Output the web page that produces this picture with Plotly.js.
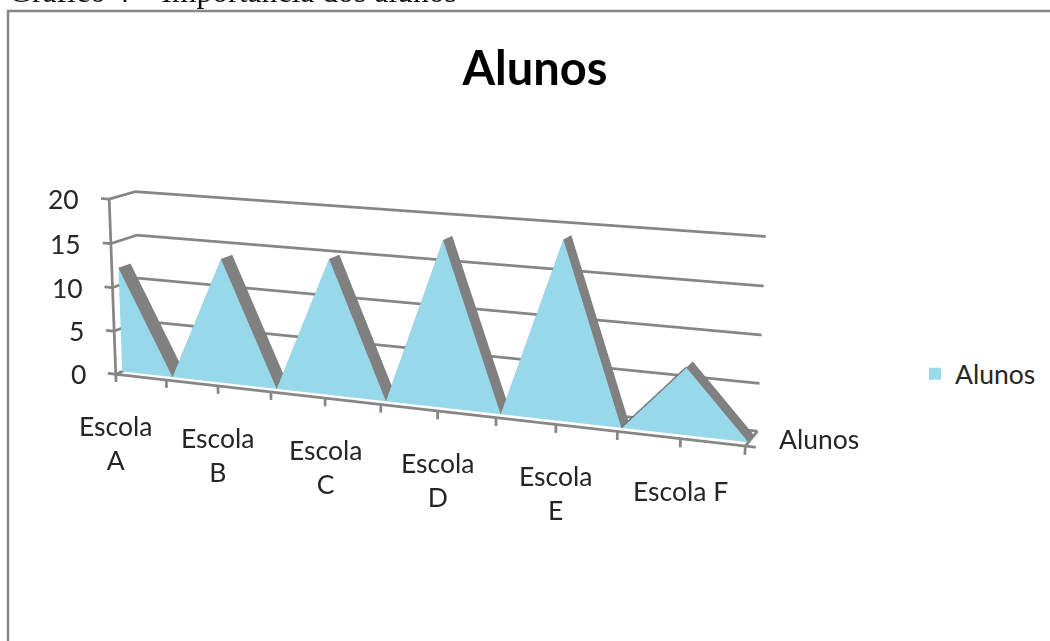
<!DOCTYPE html>
<html>
<head>
<meta charset="utf-8">
<script src="https://cdn.plot.ly/plotly-3.0.1.min.js"></script>
<style>
html,body{margin:0;padding:0;background:#fff;overflow:hidden;width:1050px;height:641px}
/* The figure is larger than the window so the 3D view keeps a long focal length. */
#chart{position:absolute;left:-841px;top:-459px}
</style>
</head>
<body>
<div id="chart"></div>
<script>
// Alunos por escola: blank rows between schools bring the area back to zero.
const categories = ['Escola<br>A', '', 'Escola<br>B', '', 'Escola<br>C', '', 'Escola<br>D', '', 'Escola<br>E', '', 'Escola F', ''];
const alunos = [12, 0, 14, 0, 15, 0, 18, 0, 19, 0, 7, 0];
const zTicks = [0, 5, 10, 15, 20];
const seriesName = 'Alunos';

const FIG_W = 2520, FIG_H = 1538, OFF_X = 841, OFF_Y = 459;
const px = x => (x + OFF_X) / FIG_W;
const py = y => 1 - (y + OFF_Y) / FIG_H;

const DEPTH_FRONT = 0.25, DEPTH_BACK = 0.72;
const AREA = '#97d8ea', TOP = '#808080', AXIS = '#868686', INK = '#262626';
const FONT = 'Lato, "Open Sans", sans-serif';
const LABEL = {family: FONT, size: 26.5, color: INK};
const X_MAX = alunos.length - 1, Z_MAX = 20;

// Front face and sloped top band of the 3D area, one segment at a time.
function meshBuilder() {
  const m = {x: [], y: [], z: [], i: [], j: [], k: []};
  m.v = (x, y, z) => { m.x.push(x); m.y.push(y); m.z.push(z); return m.x.length - 1; };
  m.quad = (a, b, c, d) => { m.i.push(a, a); m.j.push(b, c); m.k.push(c, d); };
  return m;
}
const front = meshBuilder(), top_ = meshBuilder();
alunos.forEach((v, n) => {
  if (n === X_MAX) return;
  const w = alunos[n + 1];
  front.quad(front.v(n, DEPTH_FRONT, 0), front.v(n + 1, DEPTH_FRONT, 0), front.v(n + 1, DEPTH_FRONT, w), front.v(n, DEPTH_FRONT, v));
  top_.quad(top_.v(n, DEPTH_FRONT, v), top_.v(n + 1, DEPTH_FRONT, w), top_.v(n + 1, DEPTH_BACK, w), top_.v(n, DEPTH_BACK, v));
});
const flat = {ambient: 1, diffuse: 0, specular: 0, roughness: 1, fresnel: 0};
const meshTrace = (m, color, extra) => Object.assign({
  type: 'mesh3d', x: m.x, y: m.y, z: m.z, i: m.i, j: m.j, k: m.k,
  color, flatshading: true, lighting: flat, hoverinfo: 'skip'
}, extra);

// Wall grid, axis lines and tick marks as polylines broken by nulls.
const seg = {x: [], y: [], z: []};
function path(points) {
  points.forEach(p => { seg.x.push(p[0]); seg.y.push(p[1]); seg.z.push(p[2]); });
  seg.x.push(null); seg.y.push(null); seg.z.push(null);
}
zTicks.forEach(z => {
  path([[0, 0, z], [0, 1, z], [X_MAX, 1, z]]);
  path([[0, 0, z], [-0.16, 0, z]]);
});
path([[0, 0, 0], [X_MAX, 0, 0]]);
path([[0, 0, 0], [0, 0, Z_MAX]]);
path([[X_MAX, 0, 0], [X_MAX, 1, 0]]);
path([[X_MAX, 0, 0], [X_MAX + 0.16, 0, 0]]);
alunos.forEach((_, n) => path([[n, 0, 0], [n, 0, -0.9]]));

const frame = {
  type: 'scatter3d', mode: 'lines', x: seg.x, y: seg.y, z: seg.z, connectgaps: false,
  line: {color: AXIS, width: 5.5}, showlegend: false, hoverinfo: 'skip'
};

// The rising side of the last peak catches a thin edge of the top band.
const lastPeak = X_MAX - 1;
const lastRise = {
  type: 'scatter3d', mode: 'lines',
  x: [lastPeak - 1, lastPeak], y: [DEPTH_FRONT, DEPTH_FRONT], z: [alunos[lastPeak - 1], alunos[lastPeak]],
  line: {color: '#6f6f6f', width: 3.5}, showlegend: false, hoverinfo: 'skip'
};

const xLabels = categories.map((text, x) => ({text, x})).filter(c => c.text).map(c => ({
  x: c.x, y: 0, z: 0, text: c.text, showarrow: false, yanchor: 'top', yshift: -34, font: LABEL
}));
const zLabels = zTicks.map(z => ({
  x: 0, y: 0, z, text: String(z), showarrow: false, xanchor: 'right', xshift: -28, font: LABEL
}));
const yLabel = [{
  x: X_MAX, y: 0.5, z: 0, text: seriesName, showarrow: false, xanchor: 'left', xshift: 26, font: LABEL
}];

const layout = {
  width: FIG_W, height: FIG_H, margin: {l: 0, r: 0, t: 0, b: 0},
  paper_bgcolor: '#fff', font: {family: FONT, color: INK},
  title: {text: '<b>Alunos</b>', x: px(535), xanchor: 'center', y: py(69), yanchor: 'middle',
          font: {family: FONT, size: 47, color: '#000'}},
  legend: {x: px(915), y: py(374), yanchor: 'middle', font: LABEL},
  shapes: [{type: 'rect', xref: 'paper', yref: 'paper', x0: px(8), x1: px(1060), y0: py(660), y1: py(11),
            line: {color: '#878787', width: 2.5}}],
  annotations: [{xref: 'paper', yref: 'paper', x: px(7), y: py(11), xanchor: 'left', yanchor: 'bottom',
    text: 'Gráfico 4 – Importância dos alunos', showarrow: false,
    font: {family: '"Liberation Serif", serif', size: 31.7, color: '#111'}}],
  scene: {
    domain: {x: [0, 1], y: [0, 1]},
    aspectmode: 'manual', aspectratio: {x: 3.84, y: 0.5, z: 1.358},
    camera: {eye: {x: 3.32, y: -8.0, z: 1.98}, center: {x: 0, y: 0, z: 0}, up: {x: 0, y: 0, z: 1},
             projection: {type: 'perspective'}},
    xaxis: {visible: false, range: [-1, 12]},
    yaxis: {visible: false, range: [-0.5, 1.5]},
    zaxis: {visible: false, range: [-5, 25]},
    annotations: xLabels.concat(zLabels, yLabel)
  }
};

Plotly.newPlot('chart', [
  meshTrace(front, AREA, {name: seriesName, showlegend: true}),
  meshTrace(top_, TOP, {showlegend: false}),
  frame,
  lastRise
], layout, {displayModeBar: false});
</script>
</body>
</html>
